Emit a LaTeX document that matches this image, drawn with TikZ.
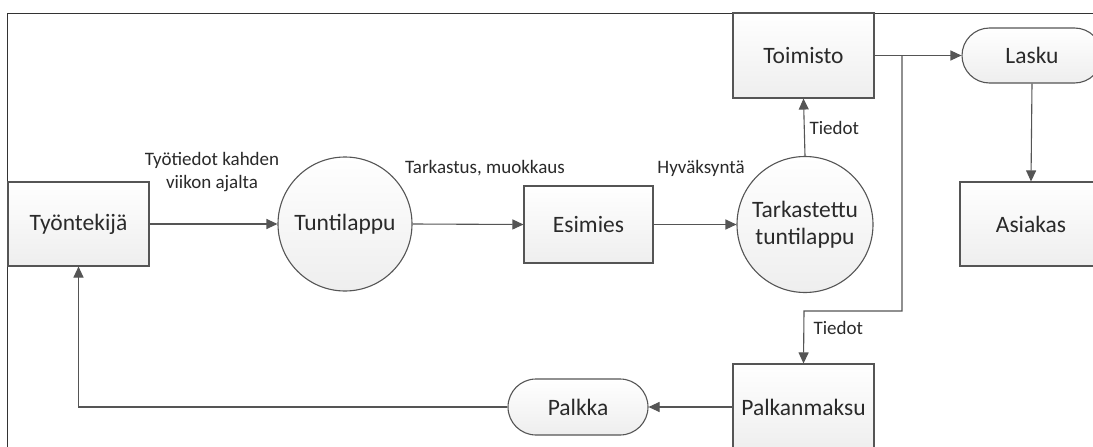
\documentclass[tikz,border=0pt]{standalone}
\usepackage{fontspec}
\setmainfont{Carlito}
\usetikzlibrary{arrows.meta,shapes.misc}
\definecolor{edge}{HTML}{555555}
\definecolor{fillbot}{HTML}{EEEEEE}
\definecolor{ink}{HTML}{2A2A2A}
\begin{document}
\begin{tikzpicture}[x=1pt,y=-1pt,
  every node/.style={font=\fontsize{23.5}{27}\selectfont, text=ink},
  shaded/.style={draw=edge, line width=1.1pt, top color=white, bottom color=fillbot},
  entity/.style={shaded, rectangle, inner sep=0pt},
  process/.style={shaded, circle, inner sep=0pt, align=center},
  store/.style={shaded, rounded rectangle, inner sep=0pt},
  flow/.style={draw=edge, line width=1.1pt, -{Triangle[length=11pt,width=10pt]}},
  lbl/.style={font=\fontsize{19}{23}\selectfont, align=center, text=ink}]
\useasboundingbox (0,0) rectangle (1093,447);
\clip (0,0) rectangle (1093,447);
\fill[white] (0,0) rectangle (1093,447);
% outer frame
\draw[black!80, line width=1pt] (7,470) -- (7,13) -- (1110,13);

% nodes
\node[entity, minimum width=141pt, minimum height=84pt] (tyon) at (78.5,224) {Työntekijä};
\node[process, minimum size=134pt] (tunti) at (345,224) {Tuntilappu};
\node[entity, minimum width=129pt, minimum height=77pt] (esim) at (588.5,224.5) {Esimies};
\node[process, minimum size=136pt] (tark) at (805,224.5) {Tarkastettu\\tuntilappu};
\node[entity, minimum width=141pt, minimum height=85pt] (toim) at (803.5,55.5) {Toimisto};
\node[store, minimum width=140pt, minimum height=55pt] (lasku) at (1032,55.5) {Lasku};
\node[entity, minimum width=142pt, minimum height=84pt] (asiak) at (1031,224) {Asiakas};
\node[entity, minimum width=141pt, minimum height=86pt] (palkm) at (803.5,407) {Palkanmaksu};
\node[store, minimum width=140pt, minimum height=56pt] (palkka) at (578,407) {Palkka};

% junction and bend points
\coordinate (j) at (902,55.5);
\coordinate (jb) at (902,311);
\coordinate (jc) at (804,311);
\coordinate (back) at (78.5,407);

% connectors
\draw[flow] (tyon.east) -- (tunti.west);
\draw[flow] (tunti.east) -- (esim.west);
\draw[flow] (esim.east) -- (tark.west);
\draw[flow] (tark.north) -- (toim.south);
\draw[flow] (toim.east) -- (lasku.west);
\draw[flow] (lasku.south) -- (asiak.north);
\draw[flow] (j) -- (jb) -- (jc) -- (palkm.north);
\draw[flow] (palkm.west) -- (palkka.east);
\draw[flow] (palkka.west) -- (back) -- (tyon.south);

% labels
\node[lbl] (l1) at (212,172) {Työtiedot kahden\\viikon ajalta};
\node[lbl] (l2) at (485,168) {Tarkastus, muokkaus};
\node[lbl] (l3) at (701,168) {Hyväksyntä};
\node[lbl, anchor=west] (l4) at (806,128) {Tiedot};
\node[lbl, anchor=west] (l5) at (810,328) {Tiedot};
\end{tikzpicture}
\end{document}
